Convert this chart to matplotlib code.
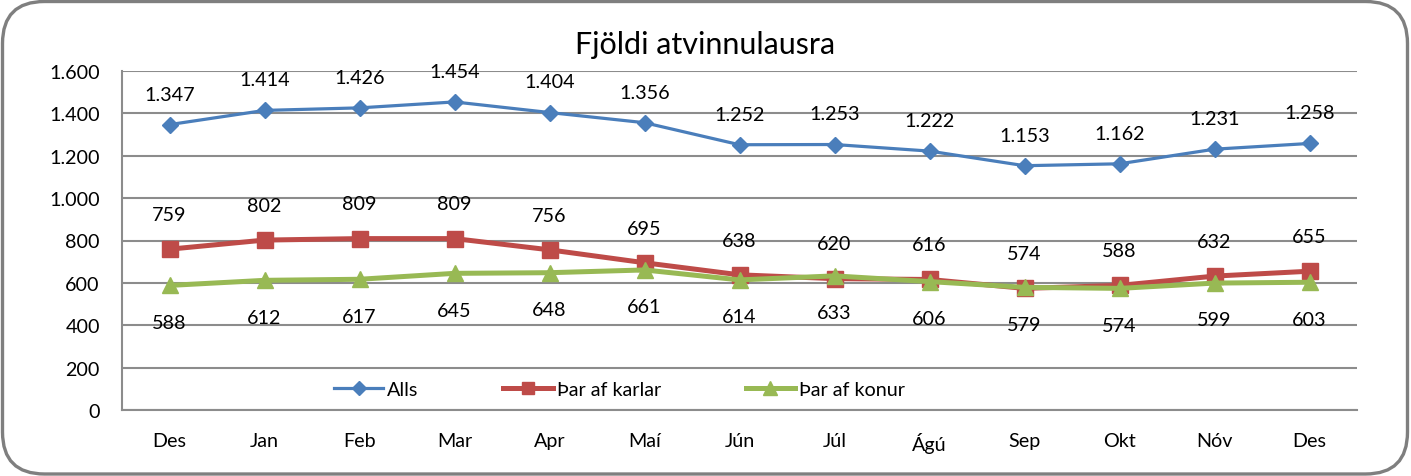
import matplotlib
matplotlib.use('Agg')
import matplotlib.pyplot as plt
from matplotlib.patches import FancyBboxPatch
from matplotlib.ticker import FuncFormatter

# === DATA ===
months = ['Des', 'Jan', 'Feb', 'Mar', 'Apr', 'Maí', 'Jún', 'Júl', 'Ágú', 'Sep', 'Okt', 'Nóv', 'Des']
alls = [1347, 1414, 1426, 1454, 1404, 1356, 1252, 1253, 1222, 1153, 1162, 1231, 1258]
karlar = [759, 802, 809, 809, 756, 695, 638, 620, 616, 574, 588, 632, 655]
konur = [588, 612, 617, 645, 648, 661, 614, 633, 606, 579, 574, 599, 603]

BLUE = '#4A7EBB'
RED = '#BE4B48'
GREEN = '#98B954'
GRID = '#8c8c8c'

plt.rcParams['font.family'] = ['Lato', 'DejaVu Sans']
FS = 14.2

fig = plt.figure(figsize=(14.11, 4.77), dpi=100)
ax = fig.add_axes([122/1411, 1-411/477, (1357-122)/1411, (411-72)/477])

x = list(range(len(months)))
l1, = ax.plot(x, alls, color=BLUE, lw=2.3, marker='D', ms=8.5, label='Alls', zorder=3)
l2, = ax.plot(x, karlar, color=RED, lw=3.6, marker='s', ms=11.5, label='Þar af karlar', zorder=3)
l3, = ax.plot(x, konur, color=GREEN, lw=3.6, marker='^', ms=12, label='Þar af konur', zorder=4)

# data labels
for i in x:
    ax.annotate(f'{alls[i]:,}'.replace(',', '.'), (i, alls[i]), xytext=(0, 22), textcoords='offset points',
                ha='center', va='center', fontsize=FS)
    ax.annotate(str(karlar[i]), (i, karlar[i]), xytext=(0, 25), textcoords='offset points',
                ha='center', va='center', fontsize=FS)
    ax.annotate(str(konur[i]), (i, konur[i]), xytext=(0, -26.5), textcoords='offset points',
                ha='center', va='center', fontsize=FS)

ax.set_xlim(-0.5, len(months) - 0.5)
ax.set_ylim(0, 1600)
ax.set_yticks(range(0, 1601, 200))
ax.yaxis.set_major_formatter(FuncFormatter(lambda v, p: f'{int(v):,}'.replace(',', '.')))
ax.set_xticks(x)
ax.set_xticklabels(months)
ax.tick_params(axis='both', length=0, labelsize=FS)
ax.tick_params(axis='x', pad=16)
ax.tick_params(axis='y', pad=16)
ax.grid(axis='y', color=GRID, lw=1.5)
ax.set_axisbelow(True)
for s in ['top', 'right']:
    ax.spines[s].set_visible(False)
for s in ['left', 'bottom']:
    ax.spines[s].set_color(GRID)
    ax.spines[s].set_linewidth(1.5)

fig.text(0.5, 1-45/477, 'Fjöldi atvinnulausra', ha='center', va='center', fontsize=22)

fig.legend(handles=[l1, l2, l3], loc='center left', bbox_to_anchor=(324/1411, 1-390/477),
           ncol=3, frameon=False, fontsize=FS, handlelength=2.5, handletextpad=0.2,
           columnspacing=4.3, borderpad=0, markerscale=0.8)

# rounded outer border
border = FancyBboxPatch((0.025, 0.02), 14.11-0.06, 4.77-0.045,
                        boxstyle='round,pad=0,rounding_size=0.42',
                        transform=fig.dpi_scale_trans, fill=False,
                        edgecolor='#7f7f7f', lw=2.4, zorder=0)
fig.patches.append(border)

fig.savefig('out.png', dpi=100, facecolor='white')
